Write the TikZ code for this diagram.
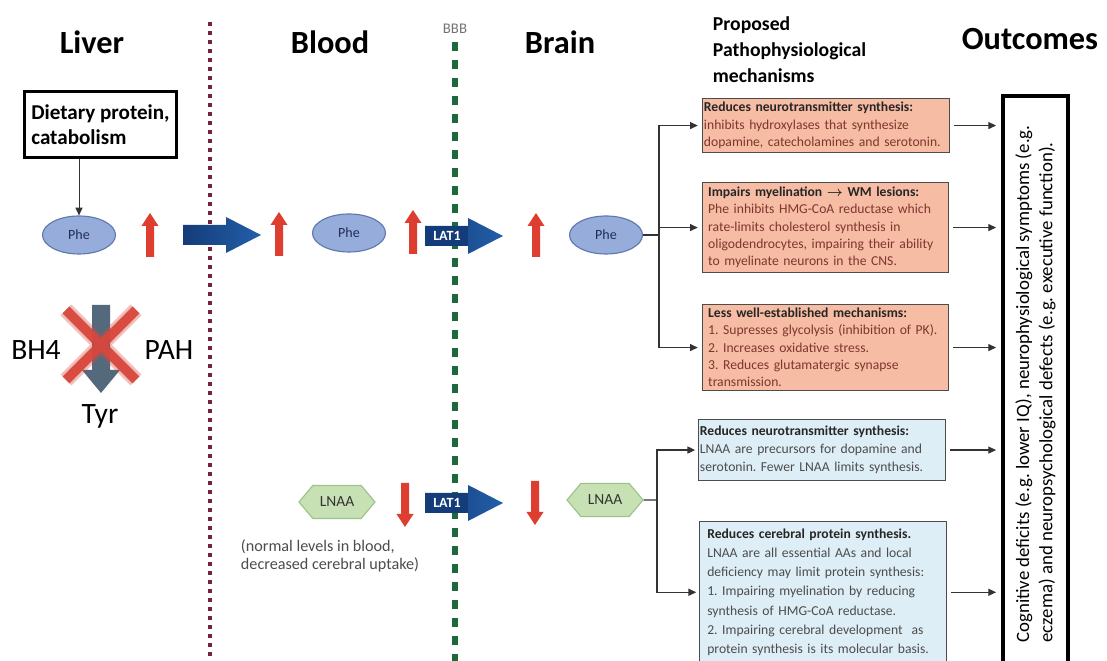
\documentclass[tikz,border=0pt]{standalone}
\usepackage{fontspec}
\setmainfont{Carlito}
\usetikzlibrary{positioning,arrows.meta,shapes.geometric,shapes.symbols}
\newlength{\unitpx}
\setlength{\unitpx}{0.025cm}
\definecolor{liverline}{RGB}{115,35,65}
\definecolor{bbbline}{RGB}{30,105,60}
\definecolor{phefill}{RGB}{150,172,218}
\definecolor{pheedge}{RGB}{95,120,175}
\definecolor{phetext}{RGB}{35,45,85}
\definecolor{lnaafill}{RGB}{200,225,180}
\definecolor{lnaaedge}{RGB}{155,195,135}
\definecolor{upred}{RGB}{222,62,48}
\definecolor{flowblue}{RGB}{35,95,170}
\definecolor{flowdark}{RGB}{20,60,120}
\definecolor{tyrgray}{RGB}{85,105,125}
\definecolor{crossred}{RGB}{215,70,60}
\definecolor{mechfill}{RGB}{247,188,164}
\definecolor{mechtext}{RGB}{125,55,45}
\definecolor{deffill}{RGB}{222,238,246}
\newcommand{\mtitle}[1]{\textbf{\textcolor{black!85}{#1}}}

\tikzset{
  uparr/.pic={\fill[upred] (-4,22) -- (-4,-9) -- (-8.5,-9) -- (0,-22) -- (8.5,-9) -- (4,-9) -- (4,22) -- cycle;},
  downarr/.pic={\fill[upred] (-4,-22) -- (-4,9) -- (-8.5,9) -- (0,22) -- (8.5,9) -- (4,9) -- (4,-22) -- cycle;},
  flowarr/.pic={\shade[left color=flowdark, right color=flowblue]
    (-39,-10) -- (4,-10) -- (4,-18) -- (39,0) -- (4,18) -- (4,10) -- (-39,10) -- cycle;}
}

\begin{document}
\frenchspacing
\hyphenpenalty=10000
\begin{tikzpicture}[
  x=\unitpx, y=-\unitpx,
  hdr/.style={font=\fontsize{23}{26}\selectfont\bfseries},
  sub/.style={font=\fontsize{14}{18.5}\selectfont\bfseries, align=left, anchor=west},
  bigtxt/.style={font=\fontsize{21}{24}\selectfont},
  note/.style={font=\fontsize{11.5}{13}\selectfont, text=black!70, align=left},
  diet/.style={draw, line width=2.1pt, align=left, font=\fontsize{15}{18}\selectfont\bfseries,
    minimum width=152\unitpx, minimum height=66\unitpx, inner xsep=3pt},
  amino/.style={ellipse, draw=pheedge, fill=phefill, line width=0.8pt, minimum width=73\unitpx,
    minimum height=38\unitpx, inner sep=0pt, text=phetext, font=\fontsize{10}{12}\selectfont},
  lnaa/.style={signal, signal to=east and west, signal pointer angle=100, draw=lnaaedge, fill=lnaafill,
    line width=0.8pt, minimum width=76\unitpx, minimum height=33\unitpx, inner sep=0pt,
    text=black!80, font=\fontsize{11}{13}\selectfont},
  lat/.style={fill=flowdark, text=white, font=\fontsize{10}{12}\selectfont\bfseries,
    minimum width=42\unitpx, minimum height=20\unitpx, inner sep=0pt},
  mech/.style={draw=black!70, fill=mechfill, line width=0.8pt, text=mechtext, anchor=north west,
    align=left, font=\fontsize{9.7}{12.3}\selectfont, inner xsep=4pt, inner ysep=1pt},
  defic/.style={mech, fill=deffill, text=black!70},
  outbox/.style={draw, line width=2.85pt, rotate=90, align=left, font=\fontsize{13.4}{16.4}\selectfont,
    minimum width=575\unitpx, minimum height=65\unitpx},
  conn/.style={-{Triangle[length=5.5pt,width=5pt]}, line width=0.8pt, draw=black!80},
  lnk/.style={line width=0.8pt, draw=black!80}
]
\fill[white] (0,0) rectangle (1107,661);
\useasboundingbox (0,0) rectangle (1107,661);

% compartment borders
\draw[liverline, line width=2.85pt, dash pattern=on 2.8pt off 3.6pt] (210,22) -- (210,661);
\draw[bbbline, line width=4.3pt, dash pattern=on 6.4pt off 6.4pt] (455,42) -- (455,661);

% headings
\node[hdr] (liver) at (92,42) {Liver};
\node[hdr] (blood) at (330,42) {Blood};
\node[font=\fontsize{10.5}{12}\selectfont, text=black!55] (bbb) at (455,29) {BBB};
\node[hdr] (brain) at (560,42) {Brain};
\node[sub] (proposed) at (708,50) {Proposed\\Pathophysiological\\mechanisms};
\node[hdr] (outcomes) at (1030,39) {Outcomes};

% liver
\node[diet, anchor=north west] (diet) at (23,90) {Dietary protein,\\catabolism};
\node[amino] (pheLiver) at (79,235) {Phe};
\draw[conn, line width=0.6pt] (diet.south -| pheLiver.north) -- (pheLiver.north);
\pic at (150,235) {uparr};
\pic at (222,235) {flowarr};

\fill[tyrgray] (92,305) -- (110,305) -- (110,370) -- (120,370) -- (101,393) -- (82,370) -- (92,370) -- cycle;
\draw[crossred, opacity=0.35, line width=11pt] (66,310) -- (136,380) (136,310) -- (66,380);
\draw[crossred, opacity=0.95, line width=7pt] (66,310) -- (136,380) (136,310) -- (66,380);
\node[bigtxt] (bh4) at (36,350) {BH4};
\node[bigtxt] (pah) at (169,350) {PAH};
\node[bigtxt] (tyr) at (100,416) {Tyr};

% blood and brain
\pic at (279,234) {uparr};
\node[amino] (pheBlood) at (349,233) {Phe};
\pic at (413,232) {uparr};
\pic at (464,236) {flowarr};
\node[lat] (lat1) at (447,236) {LAT1};
\pic at (536,235) {uparr};
\node[amino] (pheBrain) at (606,235) {Phe};

\node[lnaa] (lnaaBlood) at (337,502) {LNAA};
\pic at (405,505) {downarr};
\pic at (464,503) {flowarr};
\node[lat] (lat2) at (447,503) {LAT1};
\pic at (535,503) {downarr};
\node[lnaa] (lnaaBrain) at (605,500) {LNAA};
\node[note, anchor=west] (uptake) at (236,556) {(normal levels in blood,\\decreased cerebral uptake)};

% mechanisms
\node[mech, inner xsep=1pt, text width=173.7pt, minimum height=54\unitpx] (m1) at (702,98)
  {\mtitle{Reduces neurotransmitter synthesis:}\\inhibits hydroxylases that synthesize\\dopamine, catecholamines and serotonin.};
\node[mech, text width=167pt, minimum height=90\unitpx] (m2) at (702,182)
  {\mtitle{Impairs myelination \boldmath$\rightarrow$ WM lesions:}\\Phe inhibits HMG-CoA reductase which\\rate-limits cholesterol synthesis in\\oligodendrocytes, impairing their ability\\to myelinate neurons in the CNS.};
\node[mech, text width=167pt, minimum height=86\unitpx] (m3) at (702,304)
  {\mtitle{Less well-established mechanisms:}\\1. Supresses glycolysis (inhibition of PK).\\2. Increases oxidative stress.\\3. Reduces glutamatergic synapse\\transmission.};
\node[defic, inner xsep=1pt, text width=173.7pt, minimum height=61\unitpx, font=\fontsize{9.7}{12.8}\selectfont] (m4) at (698,419)
  {\mtitle{Reduces neurotransmitter synthesis:}\\LNAA are precursors for dopamine and\\serotonin. Fewer LNAA limits synthesis.};
\node[defic, inner xsep=5.5pt, inner ysep=5pt, text width=164.7pt, font=\fontsize{9.7}{13.7}\selectfont] (m5) at (699,521)
  {\mtitle{Reduces cerebral protein synthesis.}\\LNAA are all essential AAs and local\\deficiency may limit protein synthesis:\\1. Impairing myelination by reducing\\synthesis of HMG-CoA reductase.\\2. Impairing cerebral development\ \ as\\protein synthesis is its molecular basis.};

% outcomes
\node[outbox] (out) at (1035.5,384)
  {Cognitive deficits (e.g. lower IQ), neurophysiological symptoms (e.g.\\eczema) and neuropsychological defects (e.g. executive function).};

% connectors
\coordinate (phejoin) at (659,235);
\coordinate (lnaajoin) at (657,500);
\draw[lnk] (pheBrain) -- (phejoin);
\draw[lnk] (lnaaBrain) -- (lnaajoin);
\foreach \m in {m1,m2,m3}
  \draw[conn, shorten >=3pt] (phejoin) |- (\m.west);
\foreach \m in {m4,m5}
  \draw[conn, shorten >=2pt] (lnaajoin) |- (\m.west);
\foreach \m in {m1,m2,m3,m4,m5}
  \draw[conn, shorten <=3pt, shorten >=3.5pt] (\m.east) -- (\m.east -| out.north);
\end{tikzpicture}
\end{document}
